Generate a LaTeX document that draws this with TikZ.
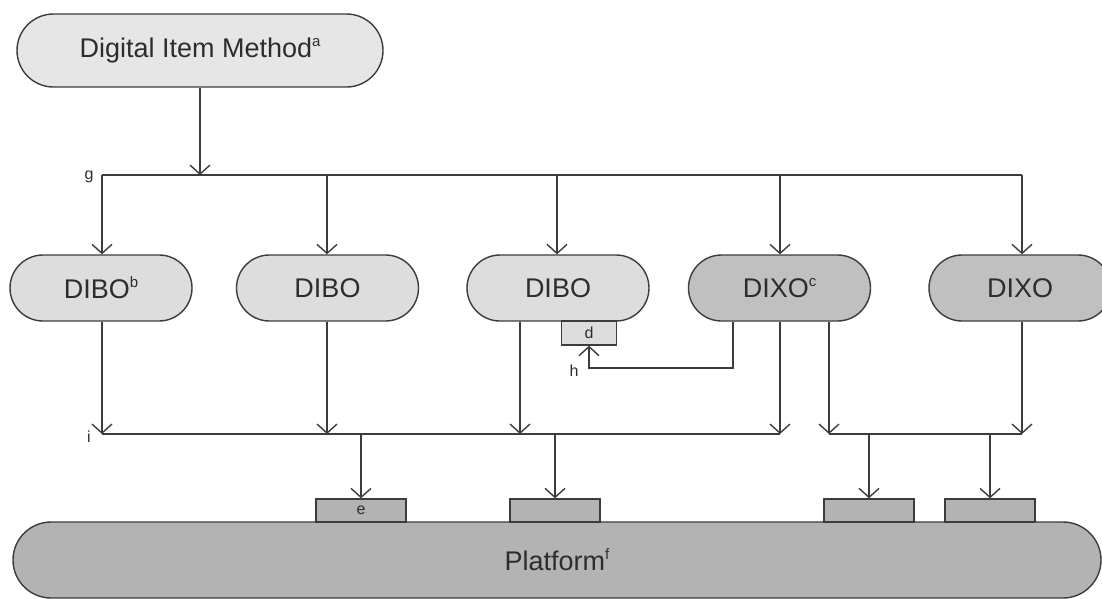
\documentclass[tikz,border=0pt]{standalone}
\usepackage{fontspec}
\setmainfont{Liberation Sans}
\usetikzlibrary{arrows.meta}
\definecolor{ln}{RGB}{60,60,60}
\definecolor{txt}{RGB}{45,45,45}
\definecolor{topfill}{RGB}{230,230,230}
\definecolor{dibofill}{RGB}{221,221,221}
\definecolor{dixofill}{RGB}{192,192,192}
\definecolor{platfill}{RGB}{179,179,179}
\newcommand{\mysup}[1]{\raisebox{0.42em}{\fontsize{15}{15}\selectfont #1}}
\begin{document}
\begin{tikzpicture}[x=1pt,y=-1pt,
  conn/.style={draw=ln, line width=1.4pt},
  arr/.style={conn, -{Straight Barb[length=9pt,width=20pt,line width=1.4pt]}},
  stadium/.style={draw=ln, line width=1.4pt, rounded corners=33pt, minimum height=66pt,
    minimum width=182pt, inner sep=0pt, text=txt, font=\fontsize{27}{30}\selectfont},
  dibo/.style={stadium, fill=dibofill},
  dixo/.style={stadium, fill=dixofill},
  port/.style={draw=ln, line width=1.4pt, fill=platfill, minimum width=90pt, minimum height=23pt,
    inner sep=0pt, text=txt, font=\fontsize{16}{16}\selectfont},
  small/.style={text=txt, inner sep=0pt, font=\fontsize{16}{16}\selectfont}]
\useasboundingbox (0,0) rectangle (1102,598);

% top node
\node[stadium, fill=topfill, minimum width=366pt, minimum height=73pt, rounded corners=36.5pt]
  (dim) at (200,50.5) {Digital Item Method\mysup{a}};

% row of nodes
\node[dibo] (b1) at (101,288) {DIBO\mysup{b}};
\node[dibo] (b2) at (327.5,288) {DIBO};
\node[dibo] (b3) at (558,288) {DIBO};
\node[dixo] (x1) at (779.5,288) {DIXO\mysup{c}};
\node[dixo] (x2) at (1020,288) {DIXO};

% d box
\node[port, fill=dibofill, minimum width=55pt, minimum height=24pt] (d) at (589,333) {d};

% platform
\node[draw=ln, line width=1.4pt, fill=platfill, minimum width=1088pt, minimum height=76pt,
  rounded corners=38pt, inner sep=0pt, text=txt, font=\fontsize{27}{30}\selectfont]
  (plat) at (557,560) {Platform\mysup{f}};

% ports on platform
\node[port] (p1) at (361,510.5) {e};
\node[port] (p2) at (555,510.5) {};
\node[port] (p3) at (869,510.5) {};
\node[port] (p4) at (990,510.5) {};

% junction coordinates
\coordinate (g0) at (102,175);
\coordinate (gm) at (200,175);
\coordinate (g2) at (327,175);
\coordinate (g3) at (557,175);
\coordinate (g4) at (780,175);
\coordinate (g5) at (1022,175);

\coordinate (i0) at (102,434);
\coordinate (i2) at (327,434);
\coordinate (i3) at (520,434);
\coordinate (i4) at (780,434);
\coordinate (iA) at (361,434);
\coordinate (iB) at (555,434);

\coordinate (j0) at (829,434);
\coordinate (j5) at (1022,434);
\coordinate (jA) at (869,434);
\coordinate (jB) at (990,434);

\coordinate (h1) at (733,368);
\coordinate (h2) at (589,368);

% top to g line
\draw[arr] (dim.south) -- (gm);
\draw[conn] (g0) -- (g5);
\draw[arr] (g0) -- (b1.north -| g0);
\draw[arr] (g2) -- (b2.north -| g2);
\draw[arr] (g3) -- (b3.north -| g3);
\draw[arr] (g4) -- (x1.north -| g4);
\draw[arr] (g5) -- (x2.north -| g5);

% drops to i line
\draw[arr] (b1.south -| i0) -- (i0);
\draw[arr] (b2.south -| i2) -- (i2);
\draw[arr] (b3.south -| i3) -- (i3);
\draw[arr] (x1.south -| i4) -- (i4);
\draw[conn] (i0) -- (i4);

% right line
\draw[arr] (x1.south -| j0) -- (j0);
\draw[arr] (x2.south -| j5) -- (j5);
\draw[conn] (j0) -- (j5);

% h connector
\draw[arr] (x1.south -| h1) -- (h1) -- (h2) -- (d.south);

% to ports
\draw[arr] (iA) -- (p1.north);
\draw[arr] (iB) -- (p2.north);
\draw[arr] (jA) -- (p3.north);
\draw[arr] (jB) -- (p4.north);

% labels
\node[small] (lg) at (89,177) {g};
\node[small] (li) at (89,437) {i};
\node[small] (lh) at (574,371) {h};
\end{tikzpicture}
\end{document}
